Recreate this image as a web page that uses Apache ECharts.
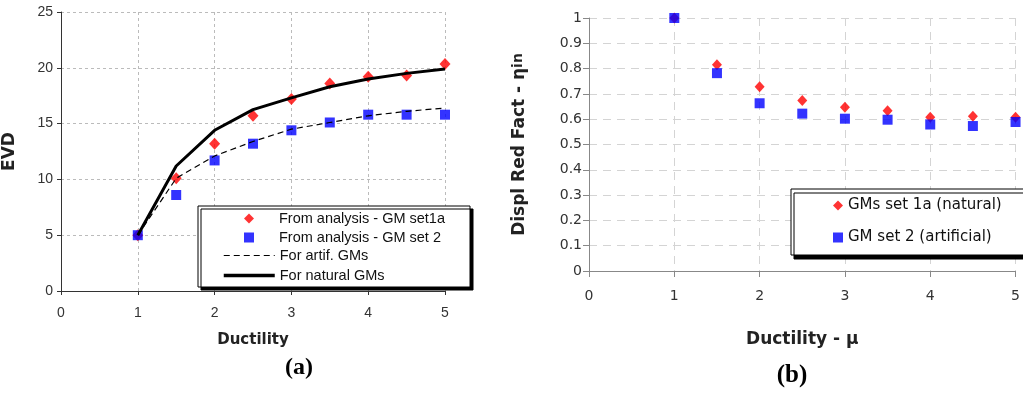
<!DOCTYPE html>
<html>
<head>
<meta charset="utf-8">
<script src="https://cdn.jsdelivr.net/npm/echarts@6/dist/echarts.min.js"></script>
<style>
  html, body { margin: 0; padding: 0; background: #fff; }
  #chart { width: 1023px; height: 394px; }
</style>
</head>
<body>
<div id="chart"></div>
<script>
// ductility values shared by both panels
const ductility = [1, 1.5, 2, 2.5, 3, 3.5, 4, 4.5, 5]

// panel (a): EVD
const evdSet1a = [5.0, 10.1, 13.2, 15.7, 17.2, 18.6, 19.2, 19.3, 20.35]
const evdSet2 = [5.0, 8.6, 11.7, 13.2, 14.4, 15.1, 15.8, 15.8, 15.8]
const evdArtif = [5.0, 10.1, 12.1, 13.4, 14.5, 15.1, 15.7, 16.1, 16.4]
const evdNatural = [5.0, 11.2, 14.4, 16.25, 17.3, 18.3, 19.0, 19.5, 19.9]

// panel (b): displacement reduction factor
const etaSet1a = [1.0, 0.815, 0.728, 0.674, 0.647, 0.633, 0.608, 0.612, 0.608]
const etaSet2 = [1.0, 0.782, 0.663, 0.622, 0.602, 0.598, 0.579, 0.573, 0.589]

const pairs = (ys) => ductility.map((x, i) => [x, ys[i]])

const chart = echarts.init(document.getElementById('chart'), null, { renderer: 'canvas' })

const tickFontA = { fontFamily: 'Liberation Sans', fontSize: 14, color: '#333' }
const tickFontB = { fontFamily: 'DejaVu Sans', fontSize: 14, color: '#333' }
const gridLineA = { show: true, lineStyle: { color: '#bbb', type: [3, 3], width: 1 } }
const gridLineB = { show: true, lineStyle: { color: '#d4d4d4', type: [8, 6], width: 1 } }

const option = {
  animation: false,
  backgroundColor: '#fff',
  grid: [
    { left: 61, right: 578, top: 12, bottom: 103 },
    { left: 589, right: 7, top: 18, bottom: 123 }
  ],
  xAxis: [
    {
      gridIndex: 0,
      type: 'value',
      min: 0,
      max: 5,
      interval: 1,
      name: 'Ductility',
      nameLocation: 'middle',
      nameGap: 42,
      nameTextStyle: { fontFamily: 'DejaVu Sans', fontWeight: 'bold', fontSize: 15, color: '#222' },
      axisLine: { lineStyle: { color: '#333', width: 1 } },
      axisTick: { show: true, length: 4, lineStyle: { color: '#333' } },
      axisLabel: Object.assign({ margin: 15 }, tickFontA),
      splitLine: gridLineA
    },
    {
      gridIndex: 1,
      type: 'value',
      min: 0,
      max: 5,
      interval: 1,
      name: 'Ductility - μ',
      nameLocation: 'middle',
      nameGap: 60,
      nameTextStyle: { fontFamily: 'DejaVu Sans', fontWeight: 'bold', fontSize: 17, color: '#222' },
      axisLine: { lineStyle: { color: '#888', width: 1 } },
      axisTick: { show: true, length: 6, lineStyle: { color: '#888' } },
      axisLabel: Object.assign({ margin: 18 }, tickFontB),
      splitLine: gridLineB
    }
  ],
  yAxis: [
    {
      gridIndex: 0,
      type: 'value',
      min: 0,
      max: 25,
      interval: 5,
      name: 'EVD',
      nameLocation: 'middle',
      nameGap: 43,
      nameTextStyle: { fontFamily: 'DejaVu Sans', fontWeight: 'bold', fontSize: 17, color: '#222' },
      axisLine: { show: true, lineStyle: { color: '#333', width: 1 } },
      axisTick: { show: true, length: 4, lineStyle: { color: '#333' } },
      axisLabel: Object.assign({ margin: 8 }, tickFontA),
      splitLine: gridLineA
    },
    {
      gridIndex: 1,
      type: 'value',
      min: 0,
      max: 1,
      interval: 0.1,
      name: '{a|Displ Red Fact - η}{b|in}',
      nameLocation: 'middle',
      nameGap: 60,
      nameTextStyle: {
        rich: {
          a: { fontFamily: 'DejaVu Sans', fontWeight: 'bold', fontSize: 17, color: '#222' },
          b: { fontFamily: 'DejaVu Sans', fontWeight: 'bold', fontSize: 14, color: '#222', padding: [0, 0, 4, 0] }
        }
      },
      axisLine: { show: true, lineStyle: { color: '#888', width: 1 } },
      axisTick: { show: true, length: 6, lineStyle: { color: '#888' } },
      axisLabel: Object.assign({ margin: 7 }, tickFontB),
      splitLine: gridLineB
    }
  ],
  legend: [
    {
      data: ['From analysis - GM set1a', 'From analysis - GM set 2'],
      orient: 'vertical',
      left: 239,
      top: 206,
      z: 10,
      itemWidth: 10,
      itemHeight: 10,
      itemGap: 4,
      selectedMode: false,
      formatter: (name) => '{p|' + name + '}',
      textStyle: {
        rich: { p: { fontFamily: 'Liberation Sans', fontSize: 14.5, color: '#111', lineHeight: 13, padding: [0, 0, 0, 20] } }
      }
    },
    {
      data: [
        { name: 'For artif. GMs', lineStyle: { width: 1.2, type: [6, 4], color: '#000' } },
        { name: 'For natural GMs', lineStyle: { width: 3.5, color: '#000' } }
      ],
      orient: 'vertical',
      left: 217,
      top: 243,
      z: 10,
      itemWidth: 51,
      itemHeight: 13,
      itemGap: 5,
      selectedMode: false,
      itemStyle: { opacity: 0 },
      textStyle: { fontFamily: 'Liberation Sans', fontSize: 14.5, color: '#111', lineHeight: 13 }
    },
    {
      data: ['GMs set 1a (natural)', 'GM set 2 (artificial)'],
      orient: 'vertical',
      left: 828,
      top: 193,
      z: 10,
      itemWidth: 10,
      itemHeight: 10,
      itemGap: 17,
      selectedMode: false,
      textStyle: { fontFamily: 'DejaVu Sans', fontSize: 15, color: '#111', lineHeight: 15 }
    }
  ],
  graphic: [
    {
      type: 'rect',
      z: 5,
      shape: { x: 198, y: 206, width: 272, height: 81 },
      style: { fill: '#fff', stroke: '#000', lineWidth: 1, shadowColor: '#000', shadowOffsetX: 3, shadowOffsetY: 3, shadowBlur: 0 }
    },
    {
      type: 'rect',
      z: 5,
      shape: { x: 791, y: 189, width: 240, height: 66 },
      style: { fill: '#fff', stroke: '#000', lineWidth: 1, shadowColor: '#000', shadowOffsetX: 3, shadowOffsetY: 4, shadowBlur: 0 }
    },
    {
      type: 'text',
      z: 5,
      style: { text: '(a)', x: 299, y: 368, textAlign: 'center', textVerticalAlign: 'middle', font: 'bold 24px "Liberation Serif"', fill: '#000' }
    },
    {
      type: 'text',
      z: 5,
      style: { text: '(b)', x: 792, y: 376, textAlign: 'center', textVerticalAlign: 'middle', font: 'bold 25px "Liberation Serif"', fill: '#000' }
    }
  ],
  series: [
    {
      name: 'For artif. GMs',
      type: 'line',
      xAxisIndex: 0,
      yAxisIndex: 0,
      data: pairs(evdArtif),
      symbol: 'none',
      color: '#000',
      lineStyle: { color: '#000', width: 1.2, type: [6, 4] }
    },
    {
      name: 'For natural GMs',
      type: 'line',
      xAxisIndex: 0,
      yAxisIndex: 0,
      data: pairs(evdNatural),
      symbol: 'none',
      color: '#000',
      lineStyle: { color: '#000', width: 3 }
    },
    {
      name: 'From analysis - GM set1a',
      type: 'scatter',
      xAxisIndex: 0,
      yAxisIndex: 0,
      data: pairs(evdSet1a),
      symbol: 'diamond',
      symbolSize: [11, 12],
      itemStyle: { color: '#ff0000' }
    },
    {
      name: 'From analysis - GM set 2',
      type: 'scatter',
      xAxisIndex: 0,
      yAxisIndex: 0,
      data: pairs(evdSet2),
      symbol: 'rect',
      symbolSize: 10,
      itemStyle: { color: '#0000ff' }
    },
    {
      name: 'GMs set 1a (natural)',
      type: 'scatter',
      xAxisIndex: 1,
      yAxisIndex: 1,
      data: pairs(etaSet1a),
      symbol: 'diamond',
      symbolSize: [10, 11],
      itemStyle: { color: '#ff0000' }
    },
    {
      name: 'GM set 2 (artificial)',
      type: 'scatter',
      xAxisIndex: 1,
      yAxisIndex: 1,
      data: pairs(etaSet2),
      symbol: 'rect',
      symbolSize: 10,
      itemStyle: { color: '#0000ff' }
    }
  ]
}

chart.setOption(option)
</script>
</body>
</html>
